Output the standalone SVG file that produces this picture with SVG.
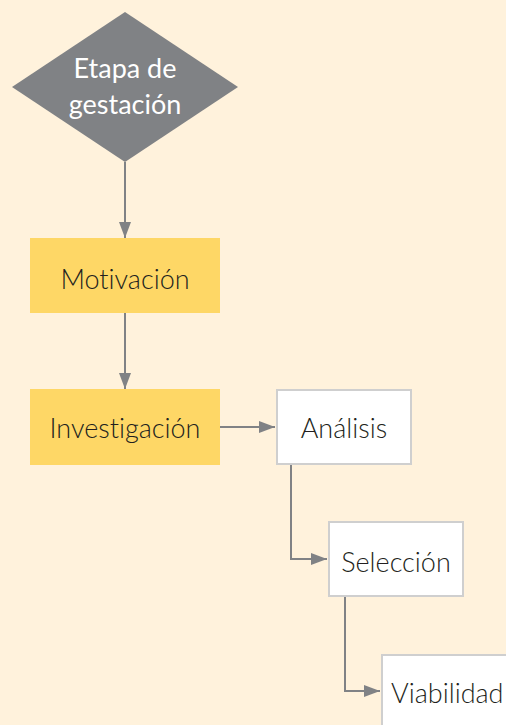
<svg xmlns="http://www.w3.org/2000/svg" width="506" height="725" viewBox="0 0 506 725">
<defs>
<marker id="arr" markerWidth="16" markerHeight="12" refX="16" refY="6" orient="auto" markerUnits="userSpaceOnUse">
<path d="M0,0 L16,6 L0,12 Z" fill="#808285"/>
</marker>
<style>
.t{font-family:Lato,"Open Sans",sans-serif;font-size:27px;font-weight:300;text-anchor:middle;fill:#231f20;font-variant-ligatures:none;font-feature-settings:"liga" 0}
.d{fill:#ffffff;font-weight:400}
.y{fill:#fed766}
.w{fill:#ffffff;stroke:#cfcfcf;stroke-width:2}
.c{fill:none;stroke:#808285;stroke-width:2;marker-end:url(#arr)}
</style>
</defs>
<rect width="506" height="725" fill="#fff2dc"/>
<g id="connectors">
<path class="c" d="M125,162 V238"/>
<path class="c" d="M125,313 V389"/>
<path class="c" d="M220,427 H275"/>
<path class="c" d="M291,465 V559 H327"/>
<path class="c" d="M345,597 V691 H380"/>
</g>
<g id="gestacion">
<polygon points="125,12 238,87 125,162 12,87" fill="#808285"/>
<text class="t d" x="125" y="78">Etapa de</text>
<text class="t d" x="125" y="114">gestación</text>
</g>
<g id="motivacion">
<rect class="y" x="30" y="238" width="190" height="75"/>
<text class="t" x="125" y="289">Motivación</text>
</g>
<g id="investigacion">
<rect class="y" x="30" y="389" width="190" height="76"/>
<text class="t" x="125" y="438">Investigación</text>
</g>
<g id="analisis">
<rect class="w" x="277" y="390" width="134" height="74"/>
<text class="t" x="344" y="438">Análisis</text>
</g>
<g id="seleccion">
<rect class="w" x="329" y="522" width="134" height="74"/>
<text class="t" x="396" y="572">Selección</text>
</g>
<g id="viabilidad">
<rect class="w" x="382" y="655" width="140" height="80"/>
<text class="t" x="391" y="703" style="text-anchor:start">Viabilidad</text>
</g>
</svg>
